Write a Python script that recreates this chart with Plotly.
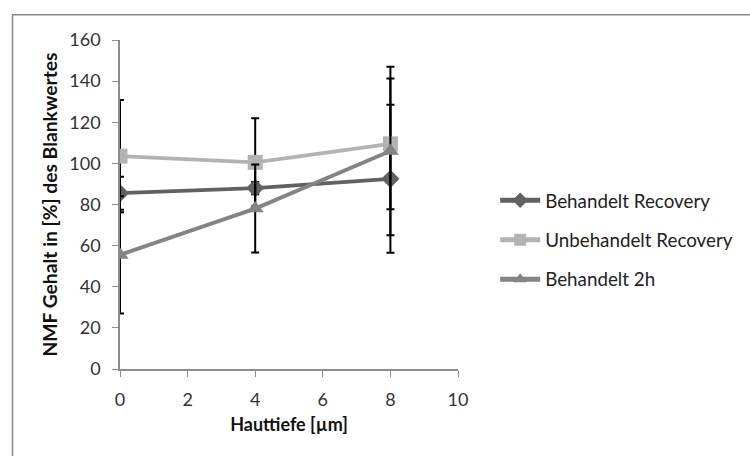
import plotly.graph_objects as go

depth = [0, 4, 8]
series_names = ["Behandelt Recovery", "Unbehandelt Recovery", "Behandelt 2h"]
beh_rec = [85.5, 88, 92.5]
beh_rec_err = [8, 3, 36]
unbeh_rec = [103.5, 100.5, 109.5]
unbeh_rec_err = [27.3, 21.4, 31.8]
beh_2h = [55.5, 78, 106]
beh_2h_err = [28.5, 21.4, 41]

values = [beh_rec, unbeh_rec, beh_2h]
errors = [beh_rec_err, unbeh_rec_err, beh_2h_err]
colors = ["#616161", "#b3b3b3", "#848484"]
symbols = ["diamond", "square", "triangle-up"]
sizes = [14, 15, 15]

FONT = "Lato, 'Open Sans', sans-serif"

fig = go.Figure()
for i, (name, v, e, c, s, sz) in enumerate(zip(series_names, values, errors, colors, symbols, sizes)):
    fig.add_trace(go.Scatter(
        x=depth, y=v, name=name, mode="lines+markers", legendgroup=f"g{i}",
        line=dict(color=c, width=3.8),
        marker=dict(symbol=s, size=sz, color=c),
        error_y=dict(type="data", array=e, visible=True, color="black",
                     thickness=2, width=4),
    ))

fig.update_layout(
    width=750, height=456,
    margin=dict(l=120, r=289, t=40, b=87),
    paper_bgcolor="white", plot_bgcolor="white",
    font=dict(family=FONT, size=18, color="#222222"),
    showlegend=True,
    legend=dict(x=1.11, y=0.392, xanchor="left", yanchor="middle",
                font=dict(size=18.8, color="#222222"), tracegroupgap=12,
                itemwidth=40, itemsizing="constant", bgcolor="rgba(0,0,0,0)"),
    xaxis=dict(range=[0, 10], dtick=2, showgrid=False, zeroline=False,
               showline=True, linecolor="#8c8c8c", linewidth=1.5,
               ticks="outside", ticklen=6, tickcolor="#8c8c8c",
               ticklabelstandoff=8,
               tickfont=dict(size=18, color="#333333"),
               title=dict(text="<b>Hauttiefe [µm]</b>", font=dict(size=18, color="#111111"), standoff=9)),
    yaxis=dict(range=[0, 160], dtick=20, showgrid=False, zeroline=False,
               showline=True, linecolor="#8c8c8c", linewidth=1.5,
               ticks="outside", ticklen=6, tickcolor="#8c8c8c",
               ticklabelstandoff=8,
               tickfont=dict(size=18, color="#333333"),
               title=dict(text="<b>NMF Gehalt in [%] des Blankwertes</b>", font=dict(size=19.3, color="#111111"), standoff=7)),
    shapes=[dict(type="rect", xref="paper", yref="paper",
                 x0=-0.318, x1=1.9, y0=-0.4, y1=1.077,
                 line=dict(color="#888888", width=1.5), fillcolor="rgba(0,0,0,0)", layer="below")],
)

fig.write_html("out.html")
